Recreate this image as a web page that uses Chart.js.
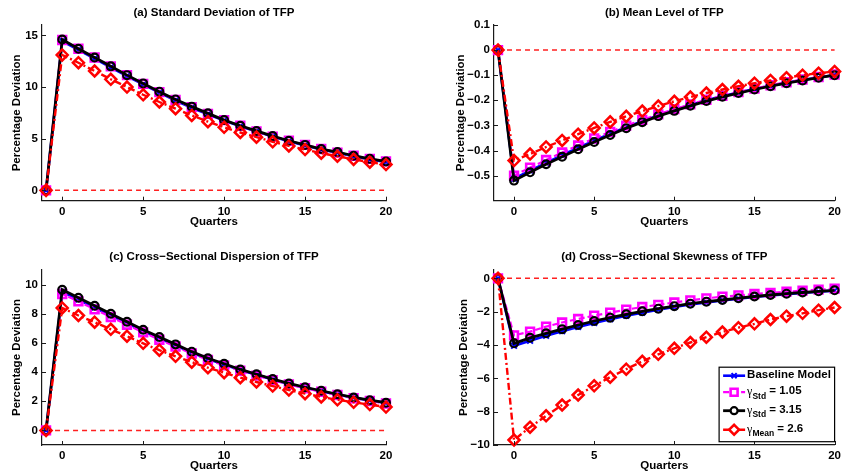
<!DOCTYPE html>
<html>
<head>
<meta charset="utf-8">
<script src="https://cdn.jsdelivr.net/npm/chart.js@4.4.1/dist/chart.umd.min.js"></script>
<style>
html, body { margin: 0; padding: 0; background: #fff; }
#wrap { position: relative; width: 845px; height: 476px; overflow: hidden; }
canvas { position: absolute; }
</style>
</head>
<body>
<div id="wrap">
  <canvas id="panelA" width="422" height="232" style="left:0;top:0"></canvas>
  <canvas id="panelB" width="423" height="232" style="left:422px;top:0"></canvas>
  <canvas id="panelC" width="422" height="241" style="left:0;top:235px"></canvas>
  <canvas id="panelD" width="423" height="241" style="left:422px;top:235px"></canvas>
</div>
<script>
// quarters after the shock (-1 = pre-shock steady state)
const quarters = [-1, 0, 1, 2, 3, 4, 5, 6, 7, 8, 9, 10, 11, 12, 13, 14, 15, 16, 17, 18, 19, 20];
const xTicks = [0, 5, 10, 15, 20];
const zeroLineX = [-1, 20];
const zeroLineY = [0, 0];

// (a) standard deviation of TFP
const stdBaseline = [0, 14.45, 13.6, 12.75, 11.9, 11.05, 10.25, 9.45, 8.7, 8.0, 7.35, 6.75, 6.2, 5.7, 5.2, 4.75, 4.35, 3.95, 3.65, 3.3, 3.0, 2.75];
const stdLow      = [0, 14.55, 13.7, 12.85, 12.0, 11.15, 10.3, 9.5, 8.75, 8.05, 7.4, 6.8, 6.25, 5.7, 5.2, 4.8, 4.4, 4.0, 3.65, 3.35, 3.05, 2.8];
const stdHigh     = [0, 14.6, 13.7, 12.85, 12.0, 11.15, 10.35, 9.55, 8.8, 8.1, 7.45, 6.8, 6.25, 5.75, 5.25, 4.8, 4.4, 4.0, 3.7, 3.35, 3.05, 2.8];
const stdMean     = [0, 13.1, 12.35, 11.55, 10.75, 10.0, 9.25, 8.55, 7.9, 7.25, 6.65, 6.1, 5.6, 5.15, 4.7, 4.3, 3.95, 3.6, 3.3, 3.0, 2.72, 2.5];
const stdYTicks = [0, 5, 10, 15];

// (b) mean level of TFP
const meanBaseline = [0, -0.512, -0.48, -0.449, -0.419, -0.389, -0.361, -0.333, -0.307, -0.283, -0.26, -0.239, -0.219, -0.2, -0.184, -0.169, -0.155, -0.142, -0.13, -0.119, -0.109, -0.099];
const meanLow      = [0, -0.5, -0.468, -0.438, -0.408, -0.38, -0.352, -0.326, -0.301, -0.278, -0.256, -0.235, -0.216, -0.198, -0.182, -0.167, -0.153, -0.14, -0.128, -0.117, -0.107, -0.097];
const meanHigh     = [0, -0.52, -0.487, -0.455, -0.425, -0.395, -0.366, -0.338, -0.311, -0.287, -0.263, -0.242, -0.222, -0.203, -0.186, -0.171, -0.157, -0.144, -0.132, -0.121, -0.11, -0.1];
const meanMean     = [0, -0.44, -0.414, -0.386, -0.36, -0.335, -0.31, -0.286, -0.264, -0.243, -0.223, -0.204, -0.187, -0.171, -0.157, -0.144, -0.132, -0.121, -0.11, -0.1, -0.092, -0.085];
const meanYTicks = [-0.5, -0.4, -0.3, -0.2, -0.1, 0, 0.1];

// (c) cross-sectional dispersion of TFP
const dispBaseline = [0, 9.5, 8.98, 8.43, 7.9, 7.36, 6.82, 6.32, 5.83, 5.34, 4.9, 4.52, 4.14, 3.81, 3.49, 3.19, 2.93, 2.69, 2.46, 2.24, 2.05, 1.88];
const dispLow      = [0, 9.35, 8.85, 8.3, 7.78, 7.25, 6.72, 6.22, 5.75, 5.27, 4.84, 4.46, 4.09, 3.76, 3.45, 3.15, 2.89, 2.65, 2.43, 2.21, 2.02, 1.85];
const dispHigh     = [0, 9.65, 9.1, 8.55, 8.0, 7.45, 6.9, 6.4, 5.9, 5.4, 4.95, 4.57, 4.18, 3.85, 3.52, 3.22, 2.96, 2.72, 2.48, 2.26, 2.07, 1.9];
const dispMean     = [0, 8.4, 7.88, 7.42, 6.93, 6.46, 5.97, 5.5, 5.08, 4.68, 4.3, 3.96, 3.62, 3.32, 3.04, 2.77, 2.52, 2.3, 2.1, 1.93, 1.77, 1.6];
const dispYTicks = [0, 2, 4, 6, 8, 10];

// (d) cross-sectional skewness of TFP
const skewBaseline = [0, -4.05, -3.75, -3.45, -3.17, -2.92, -2.68, -2.46, -2.25, -2.06, -1.88, -1.72, -1.57, -1.45, -1.33, -1.22, -1.12, -1.03, -0.95, -0.87, -0.8, -0.74];
const skewLow      = [0, -3.42, -3.2, -2.9, -2.65, -2.44, -2.24, -2.06, -1.88, -1.72, -1.59, -1.45, -1.32, -1.2, -1.1, -1.02, -0.94, -0.87, -0.8, -0.74, -0.68, -0.62];
const skewHigh     = [0, -3.9, -3.57, -3.3, -3.05, -2.8, -2.56, -2.36, -2.16, -1.98, -1.82, -1.67, -1.52, -1.4, -1.3, -1.19, -1.09, -1.0, -0.92, -0.85, -0.78, -0.72];
const skewMean     = [0, -9.7, -8.93, -8.25, -7.6, -7.0, -6.45, -5.93, -5.45, -4.98, -4.56, -4.2, -3.85, -3.53, -3.22, -2.96, -2.73, -2.47, -2.27, -2.1, -1.91, -1.75];
const skewYTicks = [-10, -8, -6, -4, -2, 0];

// legend text: [main, subscript, rest]
const seriesLabels = [
  ['Baseline Model', '', ''],
  ['\u03B3', 'Std', ' = 1.05'],
  ['\u03B3', 'Std', ' = 3.15'],
  ['\u03B3', 'Mean', ' = 2.6']
];

const seriesStyles = [
  { color: '#0000ff', dash: [], width: 2.6, point: 'crossRot', radius: 4, pointWidth: 2, order: 3 },
  { color: '#ff00ff', dash: [6, 3], width: 2.2, point: 'rect', radius: 5.5, pointWidth: 2.6, order: 2 },
  { color: '#000000', dash: [], width: 2.8, point: 'circle', radius: 3.9, pointWidth: 2.2, order: 1 },
  { color: '#ff0000', dash: [7, 3, 2, 3], width: 2.4, point: 'rectRot', radius: 5.5, pointWidth: 2.5, order: 0 }
];

const FONT = '"Liberation Sans", Arial, Helvetica, sans-serif';
Chart.defaults.font.family = FONT;
Chart.defaults.font.size = 11.5;
Chart.defaults.font.weight = 'bold';
Chart.defaults.color = '#000';

function makeDataset(values, s) {
  return {
    data: quarters.map((q, i) => ({ x: q, y: values[i] })),
    borderColor: s.color,
    backgroundColor: 'rgba(0,0,0,0)',
    borderWidth: s.width,
    borderDash: s.dash,
    pointStyle: s.point,
    pointRadius: s.radius,
    pointBorderWidth: s.pointWidth,
    pointBorderColor: s.color,
    pointBackgroundColor: 'rgba(0,0,0,0)',
    tension: 0,
    order: s.order,
    clip: false
  };
}

function zeroDataset() {
  return {
    data: zeroLineX.map((x, i) => ({ x: x, y: zeroLineY[i] })),
    borderColor: '#ff2020',
    borderWidth: 1.5,
    borderDash: [5, 4],
    pointRadius: 0,
    order: 5,
    clip: false
  };
}

function line(ctx, x1, y1, x2, y2) {
  ctx.beginPath();
  ctx.moveTo(x1, y1);
  ctx.lineTo(x2, y2);
  ctx.stroke();
}

// MATLAB style inward tick marks
const innerTicks = {
  id: 'innerTicks',
  afterDraw(chart) {
    const { ctx, chartArea } = chart;
    const xs = chart.scales.x, ys = chart.scales.y;
    ctx.save();
    ctx.strokeStyle = '#1a1a1a';
    ctx.lineWidth = 1;
    xs.ticks.forEach(t => {
      const px = Math.round(xs.getPixelForValue(t.value)) + 0.5;
      line(ctx, px, chartArea.bottom, px, chartArea.bottom - 4);
    });
    ys.ticks.forEach(t => {
      const py = Math.round(ys.getPixelForValue(t.value)) + 0.5;
      line(ctx, chartArea.left, py, chartArea.left + 4, py);
    });
    ctx.restore();
  }
};

const insetLegend = {
  id: 'insetLegend',
  afterDraw(chart) {
    const { ctx, chartArea } = chart;
    const w = 115.5, h = 74.5;
    const left = chartArea.right - w, top = chartArea.bottom - 3.3 - h;
    const rowY = [8.5, 25, 43.5, 62.5];
    ctx.save();
    ctx.fillStyle = '#fff';
    ctx.fillRect(left, top, w, h);
    ctx.strokeStyle = '#000';
    ctx.lineWidth = 1.2;
    ctx.strokeRect(left, top, w, h);
    seriesStyles.forEach((s, i) => {
      const yy = top + rowY[i];
      ctx.strokeStyle = s.color;
      ctx.lineWidth = s.width;
      ctx.setLineDash(s.dash);
      line(ctx, left + 4, yy, left + 26, yy);
      ctx.setLineDash([]);
      ctx.lineWidth = s.pointWidth;
      ctx.fillStyle = '#fff';
      Chart.helpers.drawPoint(ctx, { pointStyle: s.point, radius: s.radius * 0.9, rotation: 0, borderWidth: s.pointWidth }, left + 15, yy);

      const [main, sub, rest] = seriesLabels[i];
      let tx = left + 28;
      const ty = yy - 1;
      ctx.fillStyle = '#000';
      ctx.textBaseline = 'middle';
      ctx.textAlign = 'left';
      if (!sub) {
        ctx.font = 'bold 11.5px ' + FONT;
        ctx.fillText(main, tx, ty);
      } else {
        ctx.font = '12px "Liberation Serif", serif';
        ctx.fillText(main, tx, ty + 1);
        tx += ctx.measureText(main).width;
        ctx.font = 'bold 8.5px ' + FONT;
        ctx.fillText(sub, tx, ty + 5);
        tx += ctx.measureText(sub).width;
        ctx.font = 'bold 11.5px ' + FONT;
        ctx.fillText(rest, tx, ty);
      }
    });
    ctx.restore();
  }
};

function minusSign(v) {
  return String(v).replace('-', '\u2212');
}

function drawPanel(id, cfg) {
  const ctx = document.getElementById(id).getContext('2d');
  const datasets = [zeroDataset()].concat(cfg.series.map((v, i) => makeDataset(v, seriesStyles[i])));
  return new Chart(ctx, {
    type: 'line',
    data: { datasets: datasets },
    options: {
      responsive: false,
      animation: false,
      events: [],
      layout: { padding: { left: 0, right: cfg.padRight, top: 0, bottom: 0 } },
      plugins: {
        legend: { display: false },
        tooltip: { enabled: false },
        title: {
          display: true,
          text: cfg.title,
          fullSize: false,
          color: '#000',
          font: { size: 11.5, weight: 'bold' },
          padding: { top: cfg.titleTop, bottom: cfg.titleBottom }
        }
      },
      scales: {
        x: {
          type: 'linear',
          min: -1.25,
          max: 20,
          afterBuildTicks: s => { s.ticks = xTicks.map(v => ({ value: v })); },
          afterFit: s => { s.height = cfg.xHeight; },
          grid: { display: false, drawTicks: false },
          border: { display: true, color: '#1a1a1a', width: 1.2 },
          ticks: { padding: 4, color: '#000', maxRotation: 0, autoSkip: false },
          title: { display: true, text: 'Quarters', color: '#000', padding: { top: 0, bottom: 3 } }
        },
        y: {
          type: 'linear',
          min: cfg.yMin,
          max: cfg.yMax,
          afterBuildTicks: s => { s.ticks = cfg.yTicks.map(v => ({ value: v })); },
          afterFit: s => { s.width = cfg.yWidth; },
          grid: { display: false, drawTicks: false },
          border: { display: true, color: '#1a1a1a', width: 1.2 },
          ticks: { padding: 4, color: '#000', autoSkip: false, callback: v => minusSign(v) },
          title: { display: true, text: 'Percentage Deviation', color: '#000', padding: { top: cfg.yTitlePad, bottom: 0 } }
        }
      }
    },
    plugins: cfg.legend ? [innerTicks, insetLegend] : [innerTicks]
  });
}

drawPanel('panelA', {
  title: '(a) Standard Deviation of TFP',
  series: [stdBaseline, stdLow, stdHigh, stdMean],
  yMin: -1, yMax: 16, yTicks: stdYTicks,
  yWidth: 42, yTitlePad: 10, padRight: 36,
  xHeight: 31.3, titleTop: 6, titleBottom: 5.2
});

drawPanel('panelB', {
  title: '(b) Mean Level of TFP',
  series: [meanBaseline, meanLow, meanHigh, meanMean],
  yMin: -0.6, yMax: 0.1, yTicks: meanYTicks,
  yWidth: 72, yTitlePad: 31.8, padRight: 7,
  xHeight: 31.3, titleTop: 6, titleBottom: 5.2
});

drawPanel('panelC', {
  title: '(c) Cross\u2212Sectional Dispersion of TFP',
  series: [dispBaseline, dispLow, dispHigh, dispMean],
  yMin: -1, yMax: 11, yTicks: dispYTicks,
  yWidth: 42, yTitlePad: 10.4, padRight: 36,
  xHeight: 31, titleTop: 15, titleBottom: 6.2
});

drawPanel('panelD', {
  title: '(d) Cross\u2212Sectional Skewness of TFP',
  series: [skewBaseline, skewLow, skewHigh, skewMean],
  yMin: -10, yMax: 0.5, yTicks: skewYTicks,
  yWidth: 72, yTitlePad: 35.4, padRight: 7,
  xHeight: 31, titleTop: 15, titleBottom: 6.2,
  legend: true
});
</script>
</body>
</html>
